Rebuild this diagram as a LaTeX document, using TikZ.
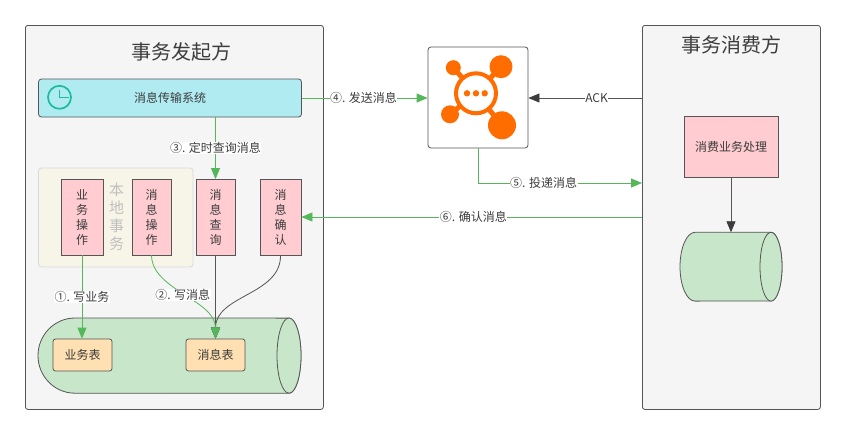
\documentclass[tikz,border=0pt]{standalone}
\usepackage{fontspec}
\setmainfont{Noto Sans CJK SC}
\usetikzlibrary{positioning,calc}
\usetikzlibrary{arrows.meta}
\definecolor{PanelGray}{RGB}{245,245,245}
\definecolor{LineGray}{RGB}{85,85,85}
\definecolor{TextGray}{RGB}{60,60,60}
\definecolor{SysBlue}{RGB}{176,235,242}
\definecolor{ClockTeal}{RGB}{26,188,156}
\definecolor{LocalCream}{RGB}{247,245,232}
\definecolor{OpPink}{RGB}{255,204,209}
\definecolor{DbGreen}{RGB}{200,230,201}
\definecolor{TableOrange}{RGB}{255,224,178}
\definecolor{FlowGreen}{RGB}{84,184,90}
\definecolor{McOrange}{RGB}{255,109,0}
\tikzset{
	panel/.style={draw=LineGray,fill=PanelGray,rounded corners=2.5pt,line width=0.8pt,anchor=north west},
	title/.style={font=\fontsize{20}{24}\selectfont,text=TextGray},
	opbox/.style={draw=LineGray,fill=OpPink,line width=0.8pt,text=TextGray,align=center,inner sep=0pt,
		font=\fontsize{12}{15}\selectfont},
	tablebox/.style={draw=LineGray,fill=TableOrange,rounded corners=2.5pt,line width=0.8pt,text=TextGray,
		minimum width=59pt,minimum height=32pt,inner sep=0pt,font=\fontsize{12}{15}\selectfont},
	db/.style={draw=LineGray,fill=DbGreen,line width=0.8pt},
	flow/.style={draw=FlowGreen,line width=0.8pt,-{Triangle[length=11pt,width=9pt]}},
	dark/.style={draw=LineGray,line width=0.8pt,-{Triangle[length=11pt,width=9pt,color=TextGray]}},
	lbl/.style={fill=white,text=TextGray,inner sep=0.5pt,font=\fontsize{12}{14}\selectfont},
}

\begin{document}
\begin{tikzpicture}[x=1pt,y=-1pt]
	\useasboundingbox (0,0) rectangle (845,434);
	\node[panel,minimum width=298pt,minimum height=384pt] (sender) at (25,25) {};
	\node[panel,minimum width=178pt,minimum height=384pt] (consumer) at (642,25) {};
	\node[title] (senderTitle) at (181,52) {事务发起方};
	\node[title] (consumerTitle) at (731,45) {事务消费方};
	% system bar
	\node[draw=LineGray,fill=SysBlue,rounded corners=3pt,line width=0.8pt,minimum width=263pt,minimum height=38pt,
		text=TextGray,inner sep=0pt] (transfer) at (170,98) {\fontsize{12}{15}\selectfont 消息传输系统};
	\node[circle,draw=ClockTeal,line width=1.7pt,minimum size=23pt,inner sep=0pt] (clock) at (59.5,97.3) {};
	\draw[ClockTeal,line width=1.5pt] (59.5,90) -- (59.5,97.3) -- (68.5,97.3);
	% local transaction
	\node[draw=black!15,fill=LocalCream,rounded corners=3pt,line width=0.8pt,minimum width=154.5pt,minimum height=99pt,
		inner sep=0pt] (localtx) at (115.8,217.5) {};
	\node[align=center,text=black!25,inner sep=0pt,font=\fontsize{15}{18}\selectfont] (localtxt) at (116.7,217)
		{本\\地\\事\\务};
	\foreach \n/\x/\w/\t in {bizop/82/42/业\\务\\操\\作,msgop/151.5/39/消\\息\\操\\作,query/215.5/39/消\\息\\查\\询,confirm/280.5/41/消\\息\\确\\认}
		\node[opbox,minimum width=\w pt,minimum height=75.5pt] (\n) at (\x,217.25) {\t};
	% cylinders
	\draw[db] (75,318) arc[start angle=90,end angle=270,x radius=37pt,y radius=37.6pt] -- (289,393.3)
		arc[start angle=270,end angle=450,x radius=12pt,y radius=37.6pt] -- cycle;
	\draw[db] (289,355.6) ellipse[x radius=12pt,y radius=37.6pt];
	\draw[db] (695,232.3) arc[start angle=90,end angle=270,x radius=15pt,y radius=34.4pt] -- (771,301)
		arc[start angle=270,end angle=450,x radius=11pt,y radius=34.4pt] -- cycle;
	\draw[db] (771,266.7) ellipse[x radius=11pt,y radius=34.4pt];
	\coordinate (dbtop) at (731,232.3);
	\node[tablebox] (biztable) at (82.5,355) {业务表};
	\node[tablebox] (msgtable) at (215.5,355) {消息表};
	\node[opbox,minimum width=94pt,minimum height=61pt] (handle) at (731,146.5) {消费业务处理};
	% broker
	\node[draw=LineGray,fill=white,rounded corners=3pt,line width=0.8pt,minimum width=100pt,minimum height=101pt,
		inner sep=0pt] (broker) at (478,97.5) {};
	\foreach \x/\y/\r in {453.3/67.7/7.5,501/66.7/11.5,450/114.3/9,502/125.3/14}{
		\draw[McOrange,line width=5pt] (\x,\y) -- (476,93.3);
		\fill[McOrange] (\x,\y) circle[radius=\r pt];
	}
	\draw[McOrange,line width=4pt,fill=white] (476,93.3) circle[radius=20pt];
	\foreach \x in {467,476,484.7}
		\fill[McOrange] (\x,93.3) circle[radius=3.2pt];
	% connectors
	\coordinate (in5) at (642,183);
	\coordinate (out6) at (642,217);
	\draw[dark] (query.south) -- (msgtable.north);
	\draw[dark] (confirm.south) .. controls (281,295) and (215.5,295) .. (msgtable.north);
	\draw[dark] (consumer.west |- transfer.east) -- node[lbl,pos=0.4] (ack) {ACK} (broker.east |- transfer.east);
	\draw[dark] (handle.south) -- (dbtop);
	\draw[flow] (transfer.east) -- node[lbl,pos=0.49] (send) {④. 发送消息} (broker.west |- transfer.east);
	\draw[flow] (query.north |- transfer.south) -- node[lbl,pos=0.49] (timer) {③. 定时查询消息} (query.north);
	\draw[flow] (broker.south) |- node[lbl,pos=0.7] (deliver) {⑤. 投递消息} (in5);
	\draw[flow] (out6) -- node[lbl,pos=0.495] (ackmsg) {⑥. 确认消息} (confirm.east |- out6);
	\draw[flow] (bizop.south) -- node[lbl,pos=0.5] (writebiz) {①. 写业务} (bizop.south |- biztable.north);
	\draw[flow] (msgop.south) .. controls (152,290) and (215.5,300) .. node[lbl,pos=0.49] (writemsg) {②. 写消息} (msgtable.north);
\end{tikzpicture}
\end{document}
